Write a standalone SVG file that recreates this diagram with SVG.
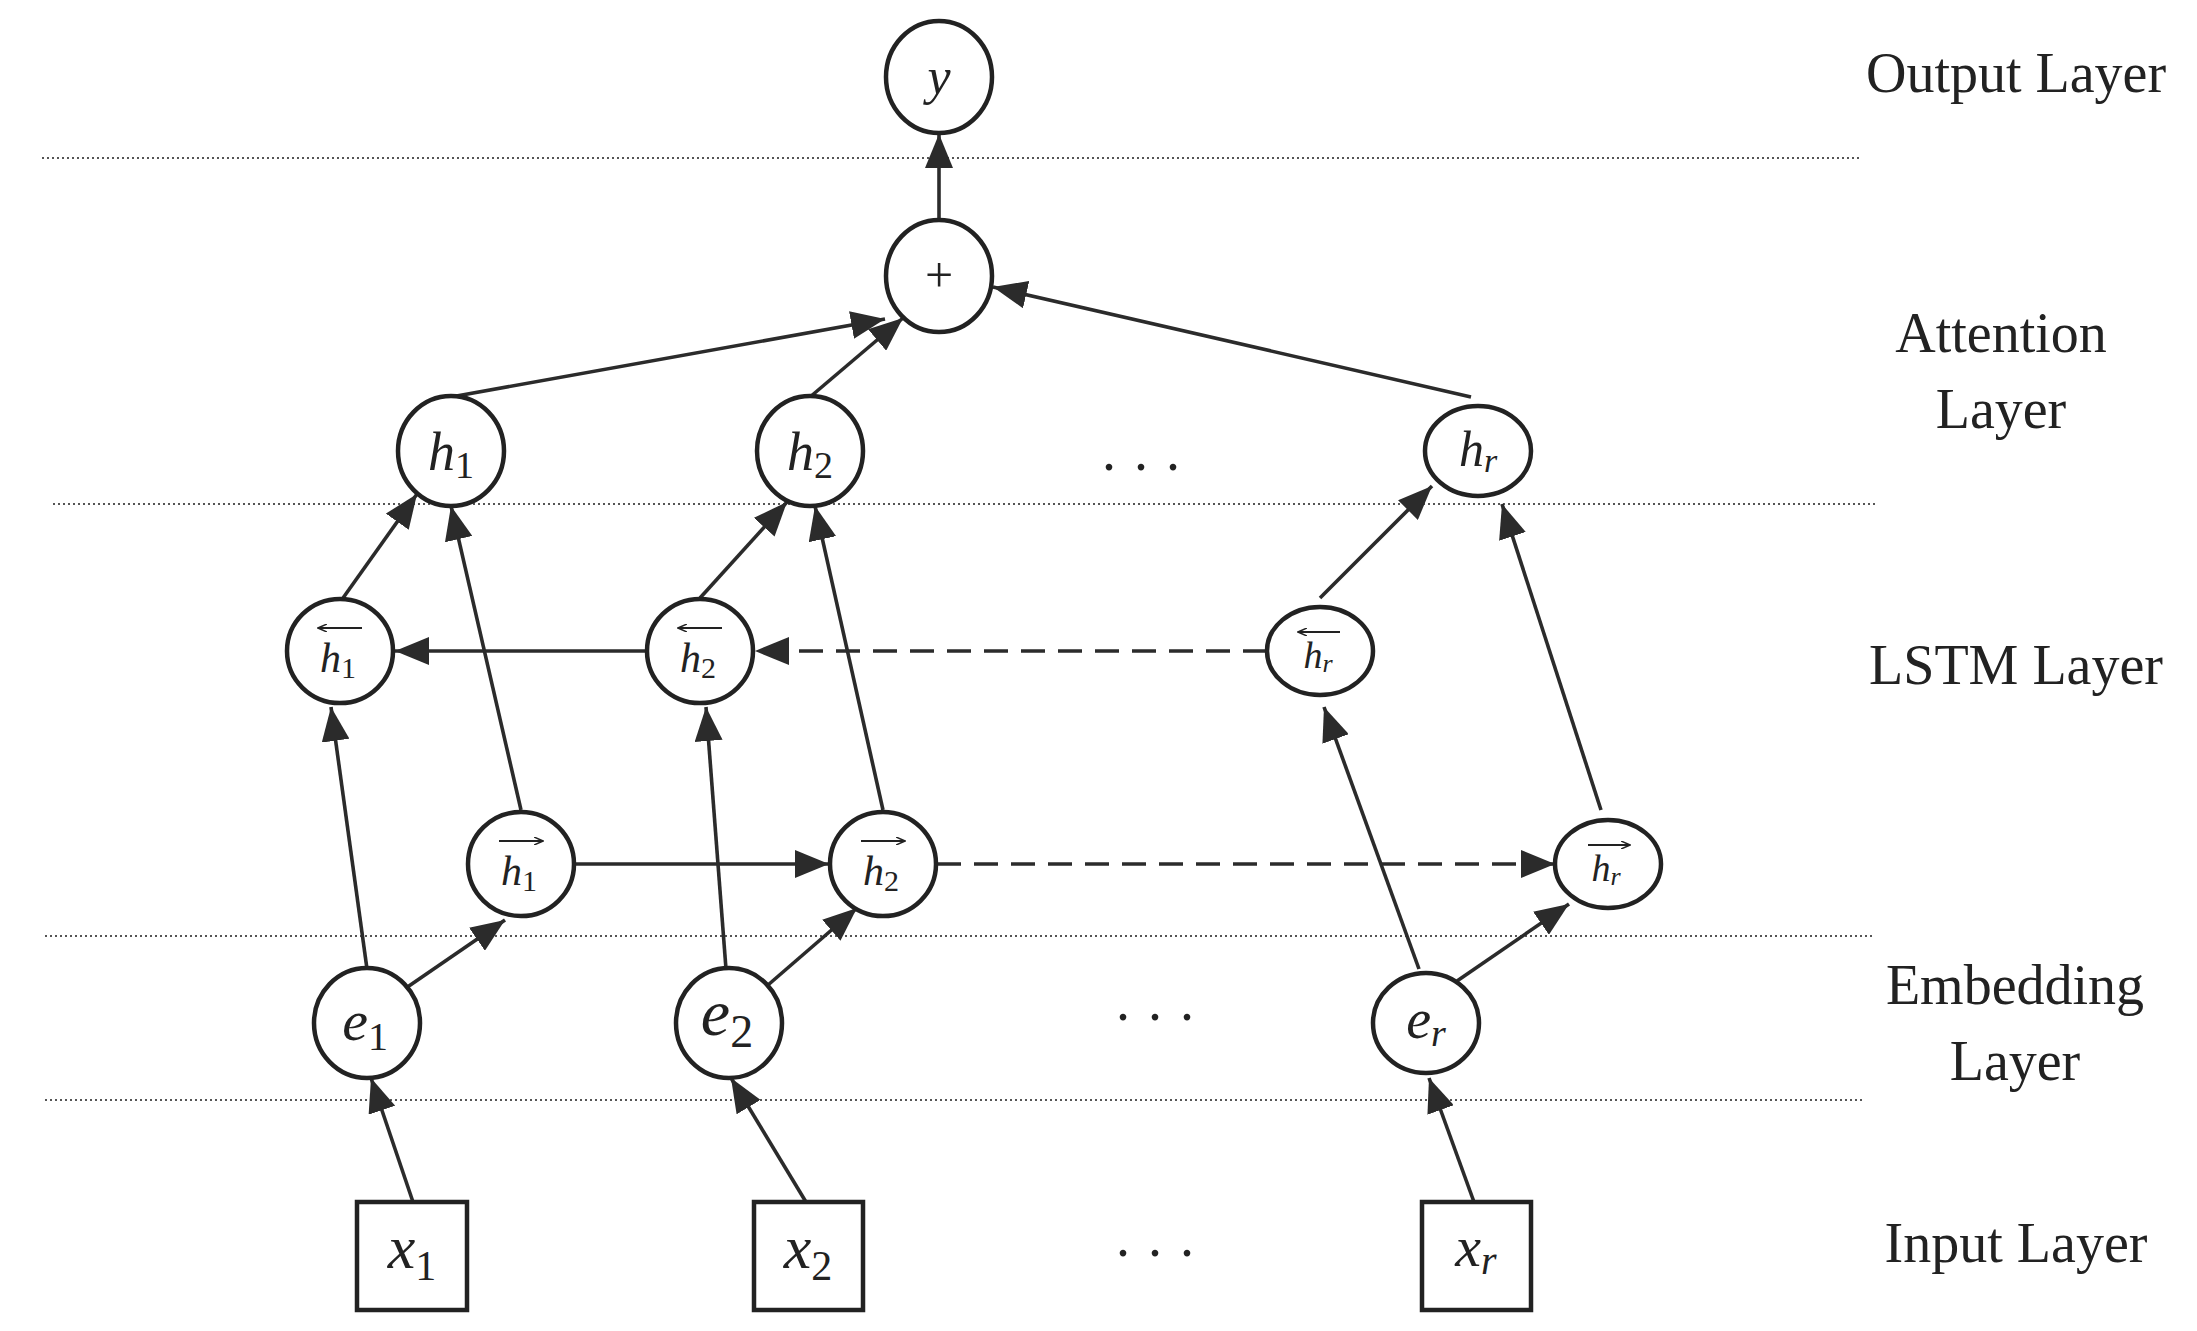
<svg xmlns="http://www.w3.org/2000/svg" width="2197" height="1331" viewBox="0 0 2197 1331">
<style>
.n{fill:#fff;stroke:#222;stroke-width:4.5}
.e{stroke:#2b2b2b;stroke-width:3.6;fill:none;marker-end:url(#ah)}
.d{stroke-dasharray:24 13}
.sep{stroke:#555;stroke-width:2;stroke-dasharray:2 3}
.m{font-family:"Liberation Serif","Times New Roman","DejaVu Serif",serif;font-style:italic;fill:#222;text-anchor:middle}
.lab{font-family:"Liberation Serif","Times New Roman","DejaVu Serif",serif;font-size:56px;fill:#222;text-anchor:middle}
.dots{font-family:"Liberation Serif","Times New Roman","DejaVu Serif",serif;font-size:56px;fill:#222;text-anchor:middle;letter-spacing:18px}
.ov{stroke:#222;stroke-width:2;fill:none}
</style>
<defs>
<marker id="ah" markerUnits="userSpaceOnUse" markerWidth="36" markerHeight="28" refX="34" refY="14" orient="auto"><path d="M0,0 L34,14 L0,28 Z" fill="#2b2b2b"/></marker>
<marker id="sa" markerUnits="userSpaceOnUse" markerWidth="10" markerHeight="8" refX="9" refY="4" orient="auto"><path d="M0,0 L9,4 L0,8" fill="none" stroke="#222" stroke-width="1.5"/></marker>
</defs>
<rect width="2197" height="1331" fill="#fff"/>
<g id="separators">
<line class="sep" x1="42" y1="158" x2="1861" y2="158"/>
<line class="sep" x1="53" y1="504" x2="1877" y2="504"/>
<line class="sep" x1="45" y1="936" x2="1875" y2="936"/>
<line class="sep" x1="45" y1="1100" x2="1863" y2="1100"/>
</g>
<g id="labels">
<text class="lab" x="2016" y="92">Output Layer</text>
<text class="lab" x="2001" y="352">Attention</text>
<text class="lab" x="2001" y="428">Layer</text>
<text class="lab" x="2016" y="684">LSTM Layer</text>
<text class="lab" x="2015" y="1004">Embedding</text>
<text class="lab" x="2015" y="1080">Layer</text>
<text class="lab" x="2016" y="1262">Input Layer</text>
<text class="dots" x="1150" y="470">...</text>
<text class="dots" x="1164" y="1020">...</text>
<text class="dots" x="1164" y="1256">...</text>
</g>
<g id="connectors">
<line class="e" x1="939" y1="220" x2="939" y2="134"/>
<line class="e" x1="451" y1="397" x2="885" y2="319"/>
<line class="e" x1="810" y1="397" x2="903" y2="318"/>
<line class="e" x1="1471" y1="397" x2="993" y2="287"/>
<line class="e" x1="343" y1="598" x2="417" y2="494"/>
<line class="e" x1="521" y1="810" x2="451" y2="506"/>
<line class="e" x1="700" y1="598" x2="787" y2="502"/>
<line class="e" x1="883" y1="810" x2="815" y2="506"/>
<line class="e" x1="1320" y1="598" x2="1432" y2="486"/>
<line class="e" x1="1601" y1="810" x2="1502" y2="504"/>
<line class="e" x1="647" y1="651" x2="395" y2="651"/>
<line class="e d" x1="1267" y1="651" x2="755" y2="651"/>
<line class="e" x1="576" y1="864" x2="829" y2="864"/>
<line class="e d" x1="937" y1="864" x2="1555" y2="864"/>
<line class="e" x1="367" y1="969" x2="331" y2="707"/>
<line class="e" x1="406" y1="988" x2="505" y2="920"/>
<line class="e" x1="726" y1="969" x2="706" y2="707"/>
<line class="e" x1="768" y1="985" x2="857" y2="908"/>
<line class="e" x1="1419" y1="969" x2="1324" y2="707"/>
<line class="e" x1="1457" y1="981" x2="1569" y2="904"/>
<line class="e" x1="413" y1="1202" x2="371" y2="1078"/>
<line class="e" x1="806" y1="1202" x2="731" y2="1078"/>
<line class="e" x1="1474" y1="1202" x2="1429" y2="1078"/>
</g>
<g id="node-y"><ellipse class="n" cx="939" cy="77" rx="53" ry="56"/><text class="m" x="939" y="94" font-size="52">y</text></g>
<g id="node-plus"><ellipse class="n" cx="939" cy="276" rx="53" ry="56"/><text x="939" y="292" font-family="Liberation Serif,Times New Roman,DejaVu Serif,serif" font-size="50" text-anchor="middle" fill="#222">+</text></g>
<g id="node-h1"><ellipse class="n" cx="451" cy="451" rx="53" ry="55"/><text class="m" x="451" y="470" font-size="54">h<tspan font-style="normal" font-size="38" dy="8">1</tspan></text></g>
<g id="node-h2"><ellipse class="n" cx="810" cy="451" rx="53" ry="55"/><text class="m" x="810" y="470" font-size="54">h<tspan font-style="normal" font-size="38" dy="8">2</tspan></text></g>
<g id="node-hr"><ellipse class="n" cx="1478" cy="451" rx="53" ry="45"/><text class="m" x="1478" y="466" font-size="50">h<tspan font-size="34" dy="6">r</tspan></text></g>
<g id="node-bh1"><ellipse class="n" cx="340" cy="651" rx="53" ry="52"/><line class="ov" x1="362" y1="628" x2="318" y2="628" marker-end="url(#sa)"/><text class="m" x="338" y="672" font-size="42">h<tspan font-style="normal" font-size="30" dy="6">1</tspan></text></g>
<g id="node-bh2"><ellipse class="n" cx="700" cy="651" rx="53" ry="52"/><line class="ov" x1="722" y1="628" x2="678" y2="628" marker-end="url(#sa)"/><text class="m" x="698" y="672" font-size="42">h<tspan font-style="normal" font-size="30" dy="6">2</tspan></text></g>
<g id="node-bhr"><ellipse class="n" cx="1320" cy="651" rx="53" ry="44"/><line class="ov" x1="1340" y1="632" x2="1298" y2="632" marker-end="url(#sa)"/><text class="m" x="1318" y="668" font-size="38">h<tspan font-size="26" dy="4">r</tspan></text></g>
<g id="node-fh1"><ellipse class="n" cx="521" cy="864" rx="53" ry="52"/><line class="ov" x1="499" y1="841" x2="543" y2="841" marker-end="url(#sa)"/><text class="m" x="519" y="885" font-size="42">h<tspan font-style="normal" font-size="30" dy="6">1</tspan></text></g>
<g id="node-fh2"><ellipse class="n" cx="883" cy="864" rx="53" ry="52"/><line class="ov" x1="861" y1="841" x2="905" y2="841" marker-end="url(#sa)"/><text class="m" x="881" y="885" font-size="42">h<tspan font-style="normal" font-size="30" dy="6">2</tspan></text></g>
<g id="node-fhr"><ellipse class="n" cx="1608" cy="864" rx="53" ry="44"/><line class="ov" x1="1588" y1="845" x2="1630" y2="845" marker-end="url(#sa)"/><text class="m" x="1606" y="881" font-size="38">h<tspan font-size="26" dy="4">r</tspan></text></g>
<g id="node-e1"><ellipse class="n" cx="367" cy="1023" rx="53" ry="55"/><text class="m" x="365" y="1040" font-size="58">e<tspan font-style="normal" font-size="40" dy="10">1</tspan></text></g>
<g id="node-e2"><ellipse class="n" cx="729" cy="1023" rx="53" ry="55"/><text class="m" x="727" y="1035" font-size="66">e<tspan font-style="normal" font-size="46" dy="12">2</tspan></text></g>
<g id="node-er"><ellipse class="n" cx="1426" cy="1023" rx="53" ry="50"/><text class="m" x="1426" y="1038" font-size="56">e<tspan font-size="38" dy="8">r</tspan></text></g>
<g id="node-x1"><rect class="n" x="357" y="1202" width="110" height="108"/><text class="m" x="412" y="1268" font-size="62">x<tspan font-style="normal" font-size="42" dy="12">1</tspan></text></g>
<g id="node-x2"><rect class="n" x="754" y="1202" width="109" height="108"/><text class="m" x="808" y="1268" font-size="62">x<tspan font-style="normal" font-size="42" dy="12">2</tspan></text></g>
<g id="node-xr"><rect class="n" x="1422" y="1202" width="109" height="108"/><text class="m" x="1476" y="1266" font-size="58">x<tspan font-size="40" dy="8">r</tspan></text></g>
</svg>
